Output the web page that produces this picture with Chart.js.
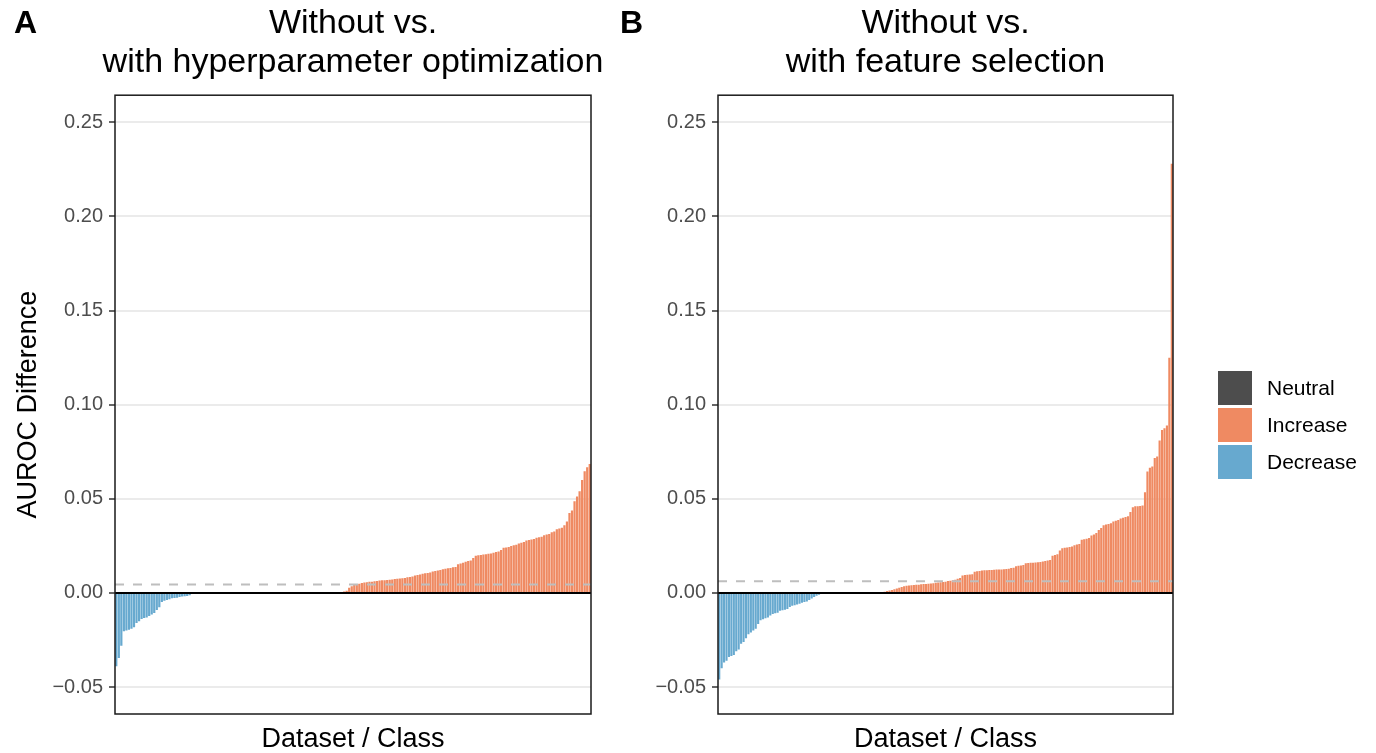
<!DOCTYPE html>
<html>
<head>
<meta charset="utf-8">
<script src="https://cdn.jsdelivr.net/npm/chart.js@4.4.1/dist/chart.umd.min.js"></script>
<style>
  body { margin: 0; background: #fff; width: 1376px; height: 753px; overflow: hidden; position: relative;
         font-family: "Liberation Sans", Arial, sans-serif; }
  #cA { position: absolute; left: 0; top: 0; }
  #cB { position: absolute; left: 610px; top: 0; }
  .tag { position: absolute; top: 6px; font-size: 32px; line-height: 32px; font-weight: bold; color: #000; }
  #legend { position: absolute; left: 1218px; top: 371px; }
  .item { display: flex; align-items: center; height: 34px; margin-bottom: 3px; font-size: 21px; color: #000; }
  .key { width: 34px; height: 34px; margin-right: 15px; }
</style>
</head>
<body>
<canvas id="cA" width="706" height="753"></canvas>
<canvas id="cB" width="671" height="753"></canvas>
<div class="tag" style="left:14px">A</div>
<div class="tag" style="left:620px">B</div>
<div id="legend"></div>
<script>
// colours
const NEUTRAL = "#4D4D4D";
const INCREASE = "#EF8A62";
const DECREASE = "#67A9CF";

// y axis
const yTicks = [-0.05, 0, 0.05, 0.1, 0.15, 0.2, 0.25];
const yMin = -0.0643;
const yMax = 0.2644;

// ---- panel A: without vs with hyperparameter optimization (sorted differences)
const decreaseA = [-0.039, -0.0345, -0.028, -0.0204, -0.02, -0.0196, -0.019, -0.0182, -0.016, -0.015,
  -0.0138, -0.0133, -0.013, -0.0122, -0.0115, -0.0106, -0.009, -0.0076, -0.0048, -0.0041,
  -0.0037, -0.0034, -0.0028, -0.0027, -0.0025, -0.0021, -0.0019, -0.0018, -0.0016, -0.0012];
const neutralA = [0, 0, 0, 0, 0, 0, 0, 0, 0, 0, 0, 0, 0, 0, 0, 0, 0, 0, 0, 0,
  0, 0, 0, 0, 0, 0, 0, 0, 0, 0, 0, 0, 0, 0, 0, 0, 0, 0, 0, 0,
  0, 0, 0, 0, 0, 0, 0, 0, 0, 0, 0, 0, 0, 0, 0, 0, 0];
const increaseA = [0.0002, 0.0003, 0.0005, 0.0008, 0.0012, 0.0027, 0.0035, 0.0042, 0.0046,
  0.0049, 0.0053, 0.0055, 0.0057, 0.0059, 0.006, 0.0062, 0.0064, 0.0066, 0.0067, 0.0068, 0.0069, 0.007,
  0.0072, 0.0074, 0.0076, 0.0077, 0.0078, 0.008, 0.0083, 0.0085, 0.0088, 0.0093, 0.0096, 0.0098,
  0.0102, 0.0104, 0.0106, 0.0108, 0.0114, 0.0117, 0.0119, 0.0122, 0.0126, 0.0129, 0.0131, 0.0133,
  0.0136, 0.0138, 0.0152, 0.0156, 0.016, 0.0166, 0.017, 0.0173, 0.0186, 0.0198, 0.02, 0.0202,
  0.0204, 0.0206, 0.0208, 0.021, 0.0214, 0.0218, 0.022, 0.0228, 0.024, 0.0242, 0.0244,
  0.025, 0.0253, 0.0256, 0.0263, 0.0266, 0.027, 0.0278, 0.0281, 0.0284, 0.0287,
  0.0293, 0.0296, 0.0299, 0.0306, 0.031, 0.0313, 0.0322, 0.0326, 0.0338, 0.0342, 0.0346,
  0.036, 0.038, 0.0425, 0.0438, 0.0487, 0.0513, 0.054, 0.06, 0.0646, 0.0668, 0.0685];
const meanA = 0.0045;

// ---- panel B: without vs with feature selection
const decreaseB = [-0.046, -0.04, -0.037, -0.036, -0.034, -0.0335, -0.033, -0.031, -0.03, -0.027,
  -0.026, -0.024, -0.022, -0.021, -0.02, -0.019, -0.0165, -0.0145, -0.014, -0.0135,
  -0.013, -0.012, -0.0112, -0.0108, -0.0105, -0.0095, -0.0092, -0.0089, -0.0085, -0.0075,
  -0.0068, -0.0065, -0.0062, -0.0058, -0.0052, -0.0048, -0.0045, -0.0038, -0.003, -0.0022,
  -0.0015, -0.001, -0.0005];
const neutralB = [0, 0, 0, 0, 0, 0, 0, 0, 0, 0, 0, 0, 0, 0, 0, 0, 0, 0, 0, 0, 0, 0, 0];
const increaseB = [0.0002, 0.0004, 0.0007, 0.001, 0.0013, 0.0016, 0.002, 0.0024, 0.0027,
  0.0032, 0.0036, 0.0038, 0.004, 0.0041, 0.0042, 0.0043, 0.0044,
  0.0046, 0.0047, 0.0048, 0.0049, 0.005, 0.0052, 0.0054, 0.0056, 0.0057, 0.0058, 0.006,
  0.0063, 0.0065, 0.0067, 0.007, 0.0076, 0.0079, 0.0093, 0.0095, 0.0097, 0.0098, 0.01,
  0.0112, 0.0115, 0.0117, 0.0119, 0.012, 0.0121, 0.0122, 0.0122, 0.0123, 0.0124, 0.0125,
  0.0125, 0.0126, 0.0127, 0.0128, 0.0132, 0.0134, 0.0142, 0.0144, 0.0146, 0.0148,
  0.0158, 0.0159, 0.016, 0.0161, 0.0162, 0.0163, 0.0165, 0.0167, 0.017, 0.0172, 0.0175,
  0.0198, 0.0202, 0.0206, 0.0225, 0.0238, 0.024, 0.0242, 0.0244, 0.0247, 0.0254, 0.0258, 0.026,
  0.0282, 0.0285, 0.0288, 0.0292, 0.0305, 0.031, 0.0318, 0.0335, 0.0345,
  0.036, 0.0364, 0.0366, 0.037, 0.038, 0.0384, 0.0388, 0.0396, 0.04, 0.0403, 0.0407, 0.043,
  0.0455, 0.046, 0.046, 0.0462, 0.0465, 0.0535, 0.0645, 0.0665, 0.0672, 0.0717, 0.0725,
  0.081, 0.0865, 0.0875, 0.089, 0.125, 0.228];
const meanB = 0.0062;

const legendItems = [["Neutral", NEUTRAL], ["Increase", INCREASE], ["Decrease", DECREASE]];

Chart.defaults.font.family = "'Liberation Sans', Arial, sans-serif";

//------------------------------------------
function colorFor(v) {
  if (v > 0) return INCREASE;
  if (v < 0) return DECREASE;
  return NEUTRAL;
}

function fmtTick(v) {
  if (Math.abs(v) < 1e-9) return "0.00";
  return v < 0 ? "\u2212" + (-v).toFixed(2) : v.toFixed(2);
}

// dashed mean line, zero line and panel border on top of the bars
const panelLines = {
  id: "panelLines",
  afterDatasetsDraw(chart, args, o) {
    const { ctx, chartArea: a, scales: { y } } = chart;
    ctx.save();
    const ym = y.getPixelForValue(o.mean);
    ctx.strokeStyle = "#BEBEBE";
    ctx.lineWidth = 2;
    ctx.setLineDash([9, 9]);
    ctx.beginPath();
    ctx.moveTo(a.left, ym);
    ctx.lineTo(a.right, ym);
    ctx.stroke();
    ctx.setLineDash([]);
    const y0 = y.getPixelForValue(0);
    ctx.strokeStyle = "#000";
    ctx.lineWidth = 2;
    ctx.beginPath();
    ctx.moveTo(a.left, y0);
    ctx.lineTo(a.right, y0);
    ctx.stroke();
    ctx.strokeStyle = "#1A1A1A";
    ctx.lineWidth = 1.5;
    ctx.strokeRect(a.left, a.top, a.right - a.left, a.bottom - a.top);
    ctx.restore();
  },
};

//------------------------------------------
// axisWidth is used on both sides so the title is centred over the panel
const drawPanel = (id, title, values, mean, axisWidth, yTitle) => {
  new Chart(document.getElementById(id), {
    type: "bar",
    data: {
      labels: values.map((v, i) => i + 1),
      datasets: [
        {
          data: values,
          backgroundColor: values.map(colorFor),
          borderWidth: 0,
          barPercentage: 0.88,
          categoryPercentage: 1,
        },
      ],
    },
    plugins: [panelLines],
    options: {
      responsive: false,
      animation: false,
      devicePixelRatio: 1,
      layout: { padding: 0 },
      plugins: {
        legend: { display: false },
        tooltip: { enabled: false },
        title: {
          display: true,
          text: title,
          color: "#000",
          font: { size: 34, weight: "normal", lineHeight: 1.15 },
          padding: { top: 4, bottom: 13 },
        },
        panelLines: { mean: mean },
      },
      scales: {
        x: {
          type: "category",
          grid: { display: false },
          border: { display: false },
          ticks: { display: false },
          title: {
            display: true,
            text: "Dataset / Class",
            color: "#000",
            font: { size: 27, lineHeight: 1 },
            padding: { top: 0, bottom: 0 },
          },
          afterFit(s) { s.height = 39; },
        },
        y: {
          min: yMin,
          max: yMax,
          afterBuildTicks(s) { s.ticks = yTicks.map((v) => ({ value: v })); },
          ticks: { color: "#4D4D4D", font: { size: 20 }, padding: 6, autoSkip: false, callback: fmtTick },
          grid: { color: "#EBEBEB", lineWidth: 2, tickColor: "#333", tickLength: 6, tickWidth: 1.5 },
          border: { display: false },
          title: {
            display: !!yTitle,
            text: yTitle || "",
            color: "#000",
            font: { size: 27, lineHeight: 1 },
            padding: { top: 15, bottom: 0 },
          },
          afterFit(s) { s.width = axisWidth; },
        },
        // empty spacer on the right
        yRight: {
          position: "right",
          display: true,
          grid: { display: false },
          border: { display: false },
          ticks: { display: false },
          afterFit(s) { s.width = axisWidth; },
        },
      },
    },
  });
};

drawPanel("cA", ["Without vs.", "with hyperparameter optimization"],
  decreaseA.concat(neutralA, increaseA), meanA, 115, "AUROC Difference");
drawPanel("cB", ["Without vs.", "with feature selection"],
  decreaseB.concat(neutralB, increaseB), meanB, 108, null);

// legend
const lg = document.getElementById("legend");
legendItems.forEach(([label, col]) => {
  const row = document.createElement("div");
  row.className = "item";
  row.innerHTML = '<div class="key" style="background:' + col + '"></div><span>' + label + "</span>";
  lg.appendChild(row);
});
</script>
</body>
</html>
